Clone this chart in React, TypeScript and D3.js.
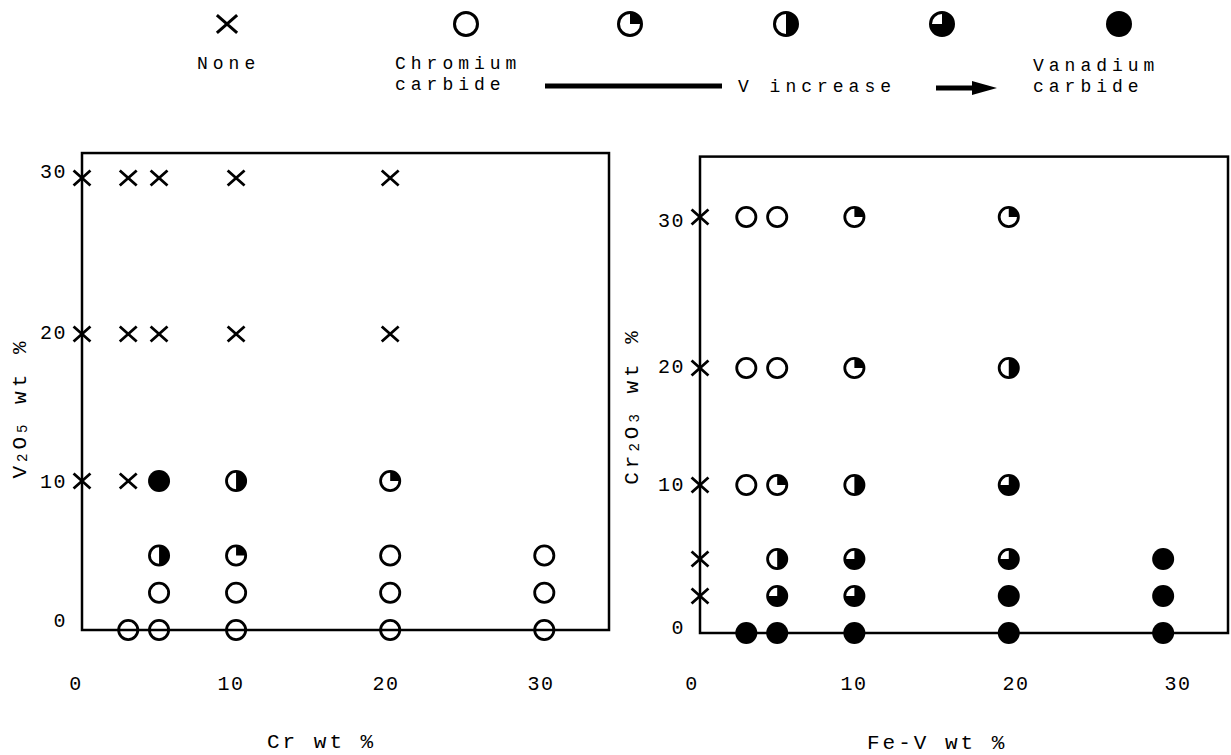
import * as d3 from "d3";

const W = 1231;
const H = 755;
const FONT = "'Liberation Mono', 'DejaVu Sans Mono', monospace";

type Phase = "none" | "cr" | "q1" | "q2" | "q3" | "v";
type Pt = [number, number, Phase];

// legend, left to right: none, chromium carbide ... vanadium carbide
const legendPhases: Phase[] = ["none", "cr", "q1", "q2", "q3", "v"];

const ticks = [0, 10, 20, 30];

// left panel: Cr wt% vs V2O5 wt%
const crV2O5: Pt[] = [
  [0, 30, "none"], [3, 30, "none"], [5, 30, "none"], [10, 30, "none"], [20, 30, "none"],
  [0, 20, "none"], [3, 20, "none"], [5, 20, "none"], [10, 20, "none"], [20, 20, "none"],
  [0, 10, "none"], [3, 10, "none"], [5, 10, "v"], [10, 10, "q2"], [20, 10, "q1"],
  [5, 5, "q2"], [10, 5, "q1"], [20, 5, "cr"], [30, 5, "cr"],
  [5, 2.5, "cr"], [10, 2.5, "cr"], [20, 2.5, "cr"], [30, 2.5, "cr"],
  [3, 0, "cr"], [5, 0, "cr"], [10, 0, "cr"], [20, 0, "cr"], [30, 0, "cr"],
];

// right panel: Fe-V wt% vs Cr2O3 wt%
const feVCr2O3: Pt[] = [
  [0, 30, "none"], [3, 30, "cr"], [5, 30, "cr"], [10, 30, "q1"], [20, 30, "q1"],
  [0, 20, "none"], [3, 20, "cr"], [5, 20, "cr"], [10, 20, "q1"], [20, 20, "q2"],
  [0, 10, "none"], [3, 10, "cr"], [5, 10, "q1"], [10, 10, "q2"], [20, 10, "q3"],
  [0, 5, "none"], [5, 5, "q2"], [10, 5, "q3"], [20, 5, "q3"], [30, 5, "v"],
  [0, 2.5, "none"], [5, 2.5, "q3"], [10, 2.5, "q3"], [20, 2.5, "v"], [30, 2.5, "v"],
  [3, 0, "v"], [5, 0, "v"], [10, 0, "v"], [20, 0, "v"], [30, 0, "v"],
];

const fillFrac: Record<Phase, number> = { none: 0, cr: 0, q1: 0.25, q2: 0.5, q3: 0.75, v: 1 };

const wedge = d3.arc<{ r: number; end: number }>()
  .innerRadius(0)
  .outerRadius(d => d.r)
  .startAngle(0)
  .endAngle(d => d.end);

function Marker({ phase, x, y, r, sw }: { phase: Phase; x: number; y: number; r: number; sw: number }) {
  if (phase === "none") {
    const a = r * 0.88, b = r * 0.78;
    return (
      <path d={`M${x - a},${y - b}L${x + a},${y + b}M${x - a},${y + b}L${x + a},${y - b}`}
        stroke="#000" strokeWidth={sw} fill="none" />
    );
  }
  const f = fillFrac[phase];
  if (f === 1) return <circle cx={x} cy={y} r={r + sw / 2} fill="#000" />;
  return (
    <g>
      {f > 0 && (
        <path transform={`translate(${x},${y})`} d={wedge({ r, end: f * 2 * Math.PI }) || ""} fill="#000" />
      )}
      <circle cx={x} cy={y} r={r} fill="none" stroke="#000" strokeWidth={sw} />
    </g>
  );
}

type Lin = d3.ScaleLinear<number, number>;

function Panel({ pts, x, y, xLab, yLab, xTop, yTop }: {
  pts: Pt[]; x: Lin; y: Lin; xLab: Lin; yLab: Lin; xTop: number; yTop: number;
}) {
  const x0 = x(0), x1 = x(xTop), y0 = y(0), y1 = y(yTop);
  return (
    <g>
      <rect x={x0} y={y1} width={x1 - x0} height={y0 - y1} fill="none" stroke="#000" strokeWidth={2.5} />
      {ticks.map(t => (
        <text key={"y" + t} x={x0 - 15} y={yLab(t)} textAnchor="end" dominantBaseline="central"
          fontSize={20} letterSpacing={1.5}>{t}</text>
      ))}
      {ticks.map(t => (
        <text key={"x" + t} x={xLab(t)} y={684} textAnchor="middle" dominantBaseline="central"
          fontSize={20} letterSpacing={1.5}>{t}</text>
      ))}
      {pts.map((p, i) => (
        <Marker key={i} phase={p[2]} x={x(p[0])} y={y(p[1])} r={9.6} sw={2.8} />
      ))}
    </g>
  );
}

export default function App() {
  // data scales (the hand-drawn right axis is not evenly spaced)
  const xL = d3.scaleLinear().domain([0, 34.2]).range([82, 609]);
  const yL = d3.scaleLinear().domain([0, 10, 20, 30]).range([630, 481, 334, 178]);
  const xR = d3.scaleLinear().domain([0, 34.2]).range([700, 1228]);
  const yR = d3.scaleLinear().domain([0, 10, 20, 30]).range([633, 485, 368, 217]);
  // tick-label scales (labels were lettered slightly off the marks)
  const xLabL = d3.scaleLinear().domain([0, 30]).range([76, 541]);
  const xLabR = d3.scaleLinear().domain([0, 30]).range([692, 1178]);
  const yLabL = d3.scaleLinear().domain([0, 10, 20, 30]).range([621, 482, 333, 172]);
  const yLabR = d3.scaleLinear().domain([0, 10, 20, 30]).range([628, 485, 367, 221]);

  const legendX = [227, 466, 630, 786, 942, 1119];

  return (
    <svg width={W} height={H} style={{ position: "absolute", left: 0, top: 0, background: "#fff" }}
      fontFamily={FONT} fill="#000">
      <rect width={W} height={H} fill="#fff" />

      {legendPhases.map((p, i) => (
        <Marker key={p} phase={p} x={legendX[i]} y={24} r={11.5} sw={3} />
      ))}

      <g fontSize={18} letterSpacing={5} style={{ whiteSpace: "pre" }}>
        <text x={197} y={69}>None</text>
        <text x={395} y={69}>Chromium</text>
        <text x={395} y={90}>carbide</text>
        <text x={738} y={92}>V increase</text>
        <text x={1033} y={71}>Vanadium</text>
        <text x={1033} y={92}>carbide</text>
      </g>
      <line x1={545} x2={722} y1={86} y2={86} stroke="#000" strokeWidth={5} />
      <line x1={936} x2={975} y1={88} y2={88} stroke="#000" strokeWidth={5} />
      <path d="M972,81L997,88L972,95Z" fill="#000" />

      <Panel pts={crV2O5} x={xL} y={yL} xLab={xLabL} yLab={yLabL} xTop={34.2} yTop={31.6} />
      <Panel pts={feVCr2O3} x={xR} y={yR} xLab={xLabR} yLab={yLabR} xTop={34.2} yTop={34} />

      <g fontSize={21} style={{ whiteSpace: "pre" }}>
        <text transform="translate(20,408) rotate(-90)" textAnchor="middle" dominantBaseline="central" letterSpacing={4}>
          V<tspan fontSize={14} dy={3}>2</tspan><tspan dy={-3}>O</tspan><tspan fontSize={14} dy={3}>5</tspan><tspan dy={-3}>  wt %</tspan>
        </text>
        <text transform="translate(632,406) rotate(-90)" textAnchor="middle" dominantBaseline="central" letterSpacing={4}>
          Cr<tspan fontSize={14} dy={3}>2</tspan><tspan dy={-3}>O</tspan><tspan fontSize={14} dy={3}>3</tspan><tspan dy={-3}>  wt %</tspan>
        </text>
        <text x={267} y={748} letterSpacing={3}>Cr  wt %</text>
        <text x={867} y={749} letterSpacing={3}>Fe-V  wt %</text>
      </g>
    </svg>
  );
}
